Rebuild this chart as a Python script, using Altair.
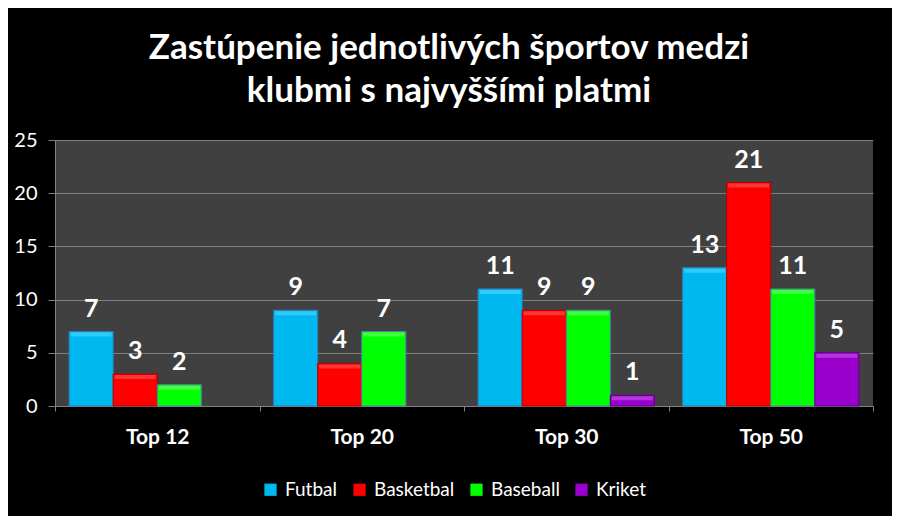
import altair as alt
import pandas as pd

categories = ["Top 12", "Top 20", "Top 30", "Top 50"]
sports = ["Futbal", "Basketbal", "Baseball", "Kriket"]
futbal = [7, 9, 11, 13]
basketbal = [3, 4, 9, 21]
baseball = [2, 7, 9, 11]
kriket = [None, None, 1, 5]
colors = ["#00B8F0", "#FF0000", "#00FF00", "#9900CC"]
edge_colors = ["#2C7FB8", "#B00000", "#4F7FAF", "#5E0080"]
highlight_colors = ["#45D2FF", "#FF4A4A", "#60FF60", "#C448E8"]
title_lines = ["Zastúpenie jednotlivých športov medzi", "klubmi s najvyššími platmi"]

hl_map = dict(zip(sports, highlight_colors))
rows = []
for s, vals in zip(sports, [futbal, basketbal, baseball, kriket]):
    for c, v in zip(categories, vals):
        if v is not None:
            rows.append({"cat": c, "sport": s, "value": v, "hl": hl_map[s]})
df = pd.DataFrame(rows)

FONT = "Lato"

x = alt.X(
    "cat:N",
    scale=alt.Scale(domain=categories, paddingInner=0, paddingOuter=0),
    axis=alt.Axis(
        title=None, labelAngle=0, tickBand="extent", tickSize=5, tickColor="#808080",
        domainColor="#808080", labelColor="white", labelFont=FONT, labelFontSize=21,
        labelFontWeight="bold", labelPadding=15, grid=False,
    ),
)
xoff = alt.XOffset("sport:N", scale=alt.Scale(domain=sports, paddingInner=0, paddingOuter=0.32))
y = alt.Y(
    "value:Q",
    scale=alt.Scale(domain=[0, 25], nice=False),
    axis=alt.Axis(
        title=None, values=[0, 5, 10, 15, 20, 25], tickSize=7, tickColor="#808080",
        domainColor="#808080", labelColor="white", labelFont=FONT, labelFontSize=20,
        labelPadding=11, gridColor="#808080", gridWidth=1,
    ),
)

bars = alt.Chart(df).mark_bar(strokeWidth=1).encode(
    x=x, xOffset=xoff, y=y,
    color=alt.Color(
        "sport:N", scale=alt.Scale(domain=sports, range=colors),
        legend=alt.Legend(
            title=None, orient="none", legendX=206, legendY=340, direction="horizontal",
            symbolType="square", symbolSize=150, symbolStrokeWidth=0, labelColor="white",
            labelFont=FONT, labelFontSize=19, columnPadding=12, labelOffset=5,
        ),
    ),
    stroke=alt.Stroke("sport:N", scale=alt.Scale(domain=sports, range=edge_colors), legend=None),
)

tops = alt.Chart(df).mark_tick(orient="horizontal", size=41, thickness=4, yOffset=3).encode(
    x=x, xOffset=xoff, y=y,
    color=alt.Color("hl:N", scale=None, legend=None),
)

labels = alt.Chart(df).mark_text(
    font=FONT, fontSize=25, fontWeight="bold", color="white", baseline="alphabetic", dy=-15
).encode(x=x, xOffset=xoff, y=y, text="value:Q")

chart = (
    alt.layer(bars, tops, labels)
    .resolve_scale(color="independent")
    .properties(
        width=818, height=266, background="black",
        autosize=alt.AutoSizeParams(type="none"),
        padding={"left": 47, "top": 132, "right": 19, "bottom": 110},
        title=alt.TitleParams(
            text=title_lines, color="white", font=FONT, fontSize=35, fontWeight="bold",
            anchor="middle", offset=21, lineHeight=43, dx=-15,
        ),
    )
    .configure_view(fill="#404040", stroke=None)
)

chart.save("out.html", embed_options={"renderer": "svg", "actions": False})
